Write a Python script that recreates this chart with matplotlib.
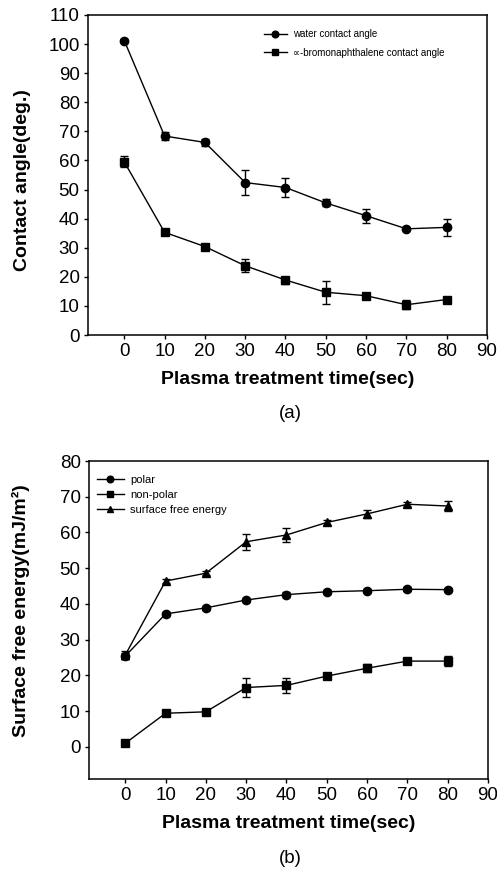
import matplotlib
matplotlib.use("Agg")
import matplotlib.pyplot as plt
from matplotlib.lines import Line2D

plt.rcParams["font.family"] = ["Liberation Sans", "DejaVu Sans"]

# ─── Data ─────────────────────────────────────────────────────────────────────
time = [0, 10, 20, 30, 40, 50, 60, 70, 80]

water = [101.2, 68.4, 66.2, 52.4, 50.7, 45.4, 41.0, 36.5, 37.0]
water_err = [0.6, 1.4, 1.2, 4.3, 3.3, 1.2, 2.4, 0.5, 2.9]
bromo = [59.5, 35.3, 30.4, 23.8, 18.9, 14.7, 13.5, 10.4, 12.2]
bromo_err = [1.9, 0.8, 1.0, 2.2, 1.2, 3.9, 0.7, 1.5, 0.8]

polar = [25.4, 37.2, 38.9, 41.1, 42.6, 43.4, 43.7, 44.1, 44.0]
polar_err = [0.8, 0.5, 0.6, 0.5, 0.6, 0.5, 0.5, 0.6, 0.5]
nonpolar = [1.0, 9.4, 9.8, 16.6, 17.2, 19.8, 22.0, 24.0, 24.0]
nonpolar_err = [0.5, 0.6, 0.8, 2.7, 2.0, 0.8, 1.1, 0.7, 1.5]
sfe = [25.7, 46.4, 48.6, 57.4, 59.3, 62.8, 65.2, 67.9, 67.4]
sfe_err = [1.0, 0.5, 0.6, 2.3, 2.0, 0.6, 1.2, 0.5, 1.5]

xticks = [0, 10, 20, 30, 40, 50, 60, 70, 80, 90]

W, H = 497, 872
fig = plt.figure(figsize=(W / 100, H / 100), dpi=100)


def px_axes(l, t, r, b):
    return fig.add_axes([l / W, 1 - b / H, (r - l) / W, (b - t) / H])


def series(ax, y, err, marker, ms=6):
    ax.errorbar(time, y, yerr=err, color="black", marker=marker, markersize=ms,
                linewidth=1.0, elinewidth=1.0, capsize=3, capthick=1.0)
    # legend handle: plain line + marker, no error caps
    return Line2D([], [], color="black", marker=marker, markersize=ms * 0.8,
                  linewidth=1.0)


def style(ax, ylim, yticks):
    ax.set_xlim(-9, 90)
    ax.set_ylim(*ylim)
    ax.set_xticks(xticks)
    ax.set_yticks(yticks)
    ax.tick_params(labelsize=13.5, length=3, width=1, pad=3)
    for s in ax.spines.values():
        s.set_linewidth(1.1)
    ax.set_xlabel("Plasma treatment time(sec)", fontsize=14, fontweight="bold",
                  labelpad=8)


# ── (a) contact angle ─────────────────────────────────────────────────────────
ax1 = px_axes(88, 15, 487, 335)
h1 = series(ax1, water, water_err, "o")
h2 = series(ax1, bromo, bromo_err, "s")
style(ax1, (0, 110), list(range(0, 111, 10)))
ax1.set_ylabel("Contact angle(deg.)", fontsize=14, fontweight="bold")
ax1.yaxis.set_label_coords(-0.142, 0.484)
ax1.legend([h1, h2], ["water contact angle", "\u221d-bromonaphthalene contact angle"],
           loc="upper left", bbox_to_anchor=(0.44, 0.955), frameon=False,
           fontsize=7, handlelength=2.4, handletextpad=0.6, borderpad=0,
           borderaxespad=0, labelspacing=0.85)
fig.text(290 / W, 1 - 413 / H, "(a)", fontsize=13.5, ha="center", va="center")

# ── (b) surface free energy ──────────────────────────────────────────────────
ax2 = px_axes(89, 461, 488, 779)
g1 = series(ax2, polar, polar_err, "o")
g2 = series(ax2, nonpolar, nonpolar_err, "s")
g3 = series(ax2, sfe, sfe_err, "^")
style(ax2, (-9, 80), list(range(0, 81, 10)))
ax2.set_ylabel("Surface free energy(mJ/m\u00b2)", fontsize=14, fontweight="bold")
ax2.yaxis.set_label_coords(-0.148, 0.528)
ax2.legend([g1, g2, g3], ["polar", "non-polar", "surface free energy"],
           loc="upper left", bbox_to_anchor=(0.02, 0.955), frameon=False,
           fontsize=8, handlelength=2.4, handletextpad=0.6, borderpad=0,
           borderaxespad=0, labelspacing=0.45)
fig.text(290 / W, 1 - 858 / H, "(b)", fontsize=13.5, ha="center", va="center")

fig.savefig("out.png", dpi=100, facecolor="white")
